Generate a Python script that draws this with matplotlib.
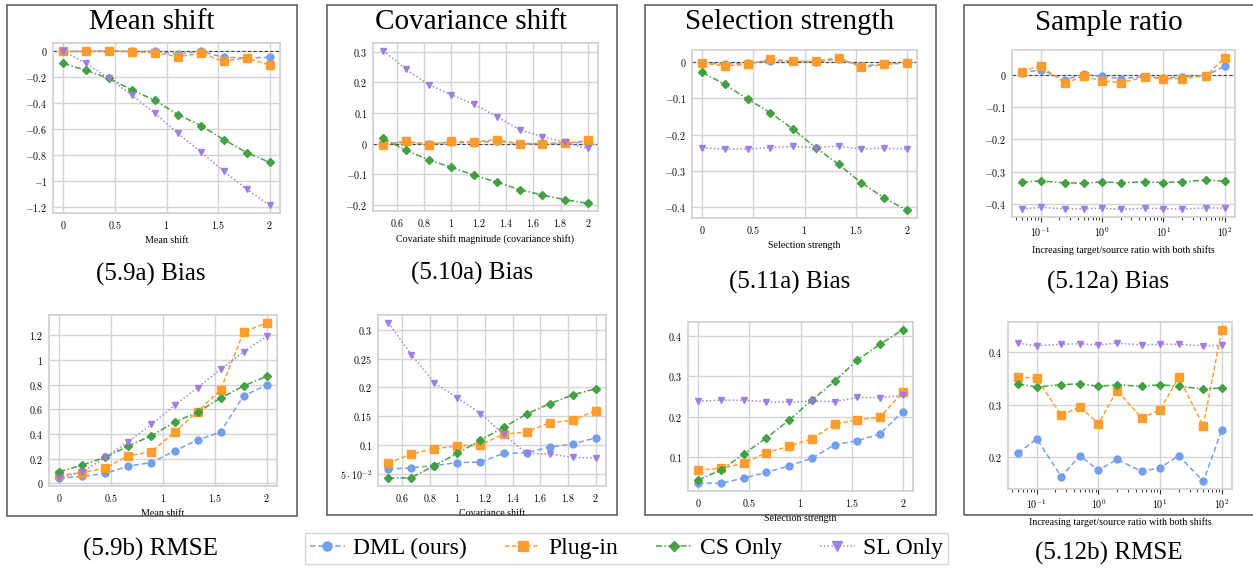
import numpy as np
import matplotlib
matplotlib.use("Agg")
import matplotlib.pyplot as plt
from matplotlib.patches import Rectangle
from matplotlib.ticker import MultipleLocator, FuncFormatter, LogLocator, NullFormatter, FixedLocator

plt.rcParams['font.family'] = ['Liberation Serif', 'DejaVu Serif']
plt.rcParams['mathtext.fontset'] = 'cm'

# ---------------- data ----------------
x_mean = np.linspace(0, 2, 10)
x_cov = np.linspace(0.5, 2, 10)
x_sel = np.linspace(0, 2, 10)
x_ratio = [0.05, 0.1, 0.25, 0.5, 1, 2, 5, 10, 20, 50, 100]

methods = ["DML (ours)", "Plug-in", "CS Only", "SL Only"]

mean_bias_dml = [0.0, 0.0, 0.005, 0.0, 0.0, -0.02, 0.0, -0.046, -0.05, -0.046]
mean_bias_plug = [0.0, 0.0, 0.005, -0.005, -0.01, -0.041, -0.015, -0.077, -0.05, -0.108]
mean_bias_cs = [-0.093, -0.147, -0.209, -0.299, -0.379, -0.489, -0.574, -0.682, -0.783, -0.858]
mean_bias_sl = [0.0, -0.093, -0.209, -0.34, -0.479, -0.634, -0.778, -0.927, -1.066, -1.19]

mean_rmse_dml = [0.042, 0.057, 0.081, 0.141, 0.168, 0.263, 0.352, 0.415, 0.71, 0.794]
mean_rmse_plug = [0.065, 0.087, 0.125, 0.225, 0.255, 0.415, 0.58, 0.759, 1.225, 1.30]
mean_rmse_cs = [0.095, 0.149, 0.211, 0.304, 0.385, 0.496, 0.577, 0.691, 0.789, 0.867]
mean_rmse_sl = [0.046, 0.092, 0.211, 0.339, 0.477, 0.631, 0.775, 0.924, 1.065, 1.19]

cov_bias_dml = [0.0, 0.004, 0.0, 0.004, 0.003, 0.008, 0.0, 0.0, 0.002, 0.005]
cov_bias_plug = [-0.004, 0.008, -0.004, 0.007, 0.005, 0.013, -0.002, 0.0, 0.001, 0.01]
cov_bias_cs = [0.017, -0.022, -0.053, -0.078, -0.103, -0.126, -0.15, -0.168, -0.183, -0.195]
cov_bias_sl = [0.303, 0.242, 0.192, 0.159, 0.128, 0.088, 0.045, 0.022, 0.004, -0.016]

cov_rmse_dml = [0.059, 0.061, 0.065, 0.07, 0.071, 0.086, 0.087, 0.097, 0.102, 0.113]
cov_rmse_plug = [0.069, 0.085, 0.094, 0.099, 0.101, 0.119, 0.123, 0.139, 0.143, 0.16]
cov_rmse_cs = [0.043, 0.044, 0.065, 0.086, 0.109, 0.131, 0.154, 0.172, 0.187, 0.198]
cov_rmse_sl = [0.312, 0.257, 0.208, 0.182, 0.155, 0.119, 0.086, 0.085, 0.079, 0.078]

sel_bias_dml = [-0.002, -0.005, -0.003, 0.005, 0.003, 0.001, 0.01, -0.01, -0.005, -0.002]
sel_bias_plug = [-0.002, -0.01, -0.006, 0.009, 0.003, 0.003, 0.013, -0.014, -0.006, -0.001]
sel_bias_cs = [-0.028, -0.061, -0.102, -0.14, -0.185, -0.237, -0.282, -0.334, -0.375, -0.41]
sel_bias_sl = [-0.237, -0.24, -0.24, -0.236, -0.233, -0.236, -0.232, -0.24, -0.238, -0.24]

sel_rmse_dml = [0.037, 0.036, 0.049, 0.063, 0.079, 0.098, 0.131, 0.141, 0.158, 0.213]
sel_rmse_plug = [0.069, 0.073, 0.085, 0.112, 0.127, 0.146, 0.182, 0.193, 0.199, 0.261]
sel_rmse_cs = [0.044, 0.069, 0.108, 0.148, 0.192, 0.241, 0.288, 0.34, 0.379, 0.415]
sel_rmse_sl = [0.239, 0.241, 0.241, 0.237, 0.236, 0.239, 0.237, 0.248, 0.247, 0.253]

ratio_bias_dml = [0.005, 0.016, -0.015, 0.001, -0.005, -0.012, -0.006, -0.01, -0.006, -0.003, 0.028]
ratio_bias_plug = [0.01, 0.027, -0.026, -0.004, -0.019, -0.024, -0.008, -0.012, -0.012, -0.003, 0.053]
ratio_bias_cs = [-0.332, -0.328, -0.334, -0.335, -0.331, -0.334, -0.331, -0.333, -0.331, -0.325, -0.329]
ratio_bias_sl = [-0.414, -0.41, -0.414, -0.414, -0.412, -0.416, -0.412, -0.414, -0.415, -0.411, -0.412]

ratio_rmse_dml = [0.208, 0.235, 0.163, 0.203, 0.175, 0.196, 0.173, 0.18, 0.203, 0.154, 0.252]
ratio_rmse_plug = [0.353, 0.35, 0.28, 0.296, 0.264, 0.327, 0.275, 0.29, 0.352, 0.26, 0.443]
ratio_rmse_cs = [0.339, 0.334, 0.338, 0.34, 0.335, 0.338, 0.335, 0.338, 0.335, 0.33, 0.332]
ratio_rmse_sl = [0.417, 0.412, 0.415, 0.416, 0.414, 0.417, 0.414, 0.415, 0.415, 0.412, 0.413]

col_titles = ["Mean shift", "Covariance shift", "Selection strength", "Sample ratio"]
xlabels_top = ["Mean shift", "Covariate shift magnitude (covariance shift)",
               "Selection strength", "Increasing target/source ratio with both shifts"]
xlabels_bot = ["Mean shift", "Covariance shift",
               "Selection strength", "Increasing target/source ratio with both shifts"]
captions_top = ["(5.9a) Bias", "(5.10a) Bias", "(5.11a) Bias", "(5.12a) Bias"]
captions_bot = ["(5.9b) RMSE", "(5.12b) RMSE"]

# ---------------- styling ----------------
colors = ["#6f9cee", "#ff9a26", "#3d9e3d", "#9d7ce2"]
markers = ["o", "s", "D", "v"]
msizes = [5, 5.5, 3.8, 5]
lstyles = [(0, (3.5, 2)), (0, (3, 1.6)), (0, (4, 1.5, 1, 1.5)), (0, (1, 1.5))]

W, H = 1253, 569
fig = plt.figure(figsize=(W / 100, H / 100), dpi=100)


def rect(x0, y0, x1, y1):
    return [x0 / W, 1 - y1 / H, (x1 - x0) / W, (y1 - y0) / H]


def fmt(v, p):
    s = "%g" % v
    if s == "-0":
        s = "0"
    return "$%s$" % s


def style_ax(ax, logx=False):
    ax.set_facecolor("white")
    ax.grid(True, color="#d4d4d4", lw=1.0)
    ax.set_axisbelow(True)
    for sp in ax.spines.values():
        sp.set_color("#cfcfcf")
        sp.set_linewidth(1.2)
    ax.tick_params(axis="both", which="major", length=0, pad=4, labelsize=7.2)
    ax.yaxis.set_major_formatter(FuncFormatter(fmt))
    if logx:
        ax.set_xscale("log")
        ax.xaxis.set_major_locator(LogLocator(base=10, numticks=10))
        ax.xaxis.set_minor_locator(LogLocator(base=10, subs=np.arange(2, 10), numticks=20))
        ax.xaxis.set_major_formatter(FuncFormatter(lambda v, p: "$10^{%d}$" % int(round(np.log10(v)))))
        ax.xaxis.set_minor_formatter(NullFormatter())
        ax.tick_params(axis="x", which="major", length=3.5, width=0.8, color="#333333", pad=3)
        ax.tick_params(axis="x", which="minor", length=2.2, width=0.7, color="#333333")
    else:
        ax.xaxis.set_major_formatter(FuncFormatter(fmt))


def plot_series(ax, x, ys, zero=False):
    handles = []
    for i, y in enumerate(ys):
        h, = ax.plot(x, y, color=colors[i], marker=markers[i], ms=msizes[i],
                     ls=lstyles[i], lw=1.1, label=methods[i], alpha=0.95)
        handles.append(h)
    if zero:
        ax.axhline(0, color="#444444", lw=0.8, ls=(0, (3, 2)), zorder=1.5)
    return handles


# column boxes
boxes = [(7, 5, 297, 516), (327, 5, 617, 515), (645, 5, 936, 515), (964, 5, 1262, 515)]
for (x0, y0, x1, y1) in boxes:
    fig.patches.append(Rectangle((x0 / W, 1 - y1 / H), (x1 - x0) / W, (y1 - y0) / H,
                                 transform=fig.transFigure, fill=False,
                                 edgecolor="#555555", lw=1.1, clip_on=False))

top_rects = [(53, 43, 280, 213), (373, 43, 598, 211), (692, 50, 917, 218), (1012, 50, 1235, 217)]
bot_rects = [(49, 315, 277, 486), (378, 315, 606, 486), (688, 322, 913, 491), (1008, 322, 1232, 489)]

top_data = [
    (x_mean, [mean_bias_dml, mean_bias_plug, mean_bias_cs, mean_bias_sl]),
    (x_cov, [cov_bias_dml, cov_bias_plug, cov_bias_cs, cov_bias_sl]),
    (x_sel, [sel_bias_dml, sel_bias_plug, sel_bias_cs, sel_bias_sl]),
    (x_ratio, [ratio_bias_dml, ratio_bias_plug, ratio_bias_cs, ratio_bias_sl]),
]
bot_data = [
    (x_mean, [mean_rmse_dml, mean_rmse_plug, mean_rmse_cs, mean_rmse_sl]),
    (x_cov, [cov_rmse_dml, cov_rmse_plug, cov_rmse_cs, cov_rmse_sl]),
    (x_sel, [sel_rmse_dml, sel_rmse_plug, sel_rmse_cs, sel_rmse_sl]),
    (x_ratio, [ratio_rmse_dml, ratio_rmse_plug, ratio_rmse_cs, ratio_rmse_sl]),
]

top_ystep = [0.2, 0.1, 0.1, 0.1]
bot_ystep = [0.2, 0.05, 0.1, 0.1]
xstep = [0.5, 0.2, 0.5, None]

handles = None
for c in range(4):
    logx = c == 3
    ax = fig.add_axes(rect(*top_rects[c]))
    style_ax(ax, logx)
    h = plot_series(ax, top_data[c][0], top_data[c][1], zero=True)
    if handles is None:
        handles = h
    ax.yaxis.set_major_locator(MultipleLocator(top_ystep[c]))
    if not logx:
        ax.xaxis.set_major_locator(MultipleLocator(xstep[c]))
    ax.set_xlabel(xlabels_top[c], fontsize=7.2, labelpad=4)

    ax2 = fig.add_axes(rect(*bot_rects[c]))
    style_ax(ax2, logx)
    plot_series(ax2, bot_data[c][0], bot_data[c][1])
    ax2.yaxis.set_major_locator(MultipleLocator(bot_ystep[c]))
    if not logx:
        ax2.xaxis.set_major_locator(MultipleLocator(xstep[c]))
    ax2.set_xlabel(xlabels_bot[c], fontsize=7.2, labelpad=4)
    if c == 1:
        ticks = [0.05, 0.1, 0.15, 0.2, 0.25, 0.3]
        ax2.yaxis.set_major_locator(FixedLocator(ticks))
        ax2.yaxis.set_major_formatter(FuncFormatter(
            lambda v, p: r"$5\cdot10^{-2}$" if abs(v - 0.05) < 1e-9 else fmt(v, p)))

# titles and captions
title_pos = [(152, 22), (471, 22), (790, 22), (1109, 23)]
for t, (x, y) in zip(col_titles, title_pos):
    fig.text(x / W, 1 - y / H, t, ha="center", va="center", fontsize=21)

cap_top_pos = [(151, 274), (472, 273), (790, 282), (1108, 282)]
for t, (x, y) in zip(captions_top, cap_top_pos):
    fig.text(x / W, 1 - y / H, t, ha="center", va="center", fontsize=18)
cap_bot_pos = [(150, 549), (1109, 553)]
for t, (x, y) in zip(captions_bot, cap_bot_pos):
    fig.text(x / W, 1 - y / H, t, ha="center", va="center", fontsize=18)

leg = fig.legend(handles, methods, loc="center", bbox_to_anchor=(626.5 / W, 1 - 548.5 / H),
                 ncol=4, frameon=True, fancybox=False, fontsize=17, edgecolor="#cccccc",
                 handlelength=1.5, handletextpad=0.35, columnspacing=1.6, borderpad=0.2,
                 markerscale=1.3)
leg.get_frame().set_linewidth(1.0)

fig.savefig("out.png", dpi=100)
